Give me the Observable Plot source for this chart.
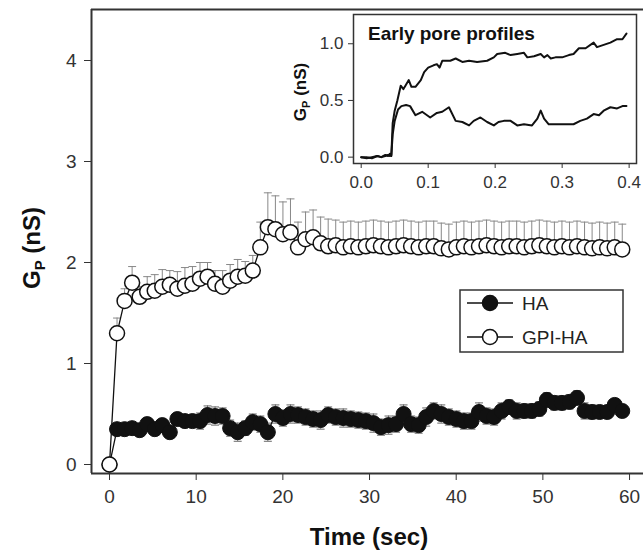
<!DOCTYPE html>
<html><head><meta charset="utf-8">
<script src="https://cdn.jsdelivr.net/npm/d3@7"></script>
<script src="https://cdn.jsdelivr.net/npm/@observablehq/plot@0.6"></script>
<style>
html,body{margin:0;padding:0;background:#fff;overflow:hidden;}
#wrap{position:relative;width:643px;height:550px;overflow:hidden;}
#wrap svg{position:absolute;}
</style></head><body><div id="wrap"></div>
<script>
// ---- data ----
const time = [0, 0.87, 1.74, 2.61, 3.48, 4.35, 5.22, 6.09, 6.96, 7.83,
  8.7, 9.57, 10.44, 11.31, 12.18, 13.05, 13.92, 14.79, 15.66, 16.53,
  17.4, 18.27, 19.14, 20.01, 20.88, 21.75, 22.62, 23.49, 24.36, 25.23,
  26.1, 26.97, 27.84, 28.71, 29.58, 30.45, 31.32, 32.19, 33.06, 33.93,
  34.8, 35.67, 36.54, 37.41, 38.28, 39.15, 40.02, 40.89, 41.76, 42.63,
  43.5, 44.37, 45.24, 46.11, 46.98, 47.85, 48.72, 49.59, 50.46, 51.33,
  52.2, 53.07, 53.94, 54.81, 55.68, 56.55, 57.42, 58.29, 59.16];
const gpiHA = [0, 1.30, 1.62, 1.80, 1.66, 1.71, 1.72, 1.76, 1.78, 1.74,
  1.77, 1.79, 1.84, 1.86, 1.79, 1.76, 1.82, 1.86, 1.87, 1.92,
  2.15, 2.35, 2.33, 2.28, 2.30, 2.15, 2.23, 2.25, 2.19, 2.16,
  2.17, 2.15, 2.16, 2.15, 2.16, 2.17, 2.16, 2.15, 2.16, 2.17,
  2.16, 2.15, 2.16, 2.16, 2.14, 2.13, 2.15, 2.16, 2.15, 2.16,
  2.17, 2.16, 2.15, 2.16, 2.16, 2.15, 2.16, 2.17, 2.16, 2.15,
  2.16, 2.15, 2.16, 2.15, 2.14, 2.15, 2.14, 2.15, 2.13];
const gpiErr = [0, 0.15, 0.12, 0.16, 0.10, 0.15, 0.16, 0.17, 0.14, 0.17,
  0.18, 0.17, 0.16, 0.14, 0.13, 0.16, 0.16, 0.17, 0.14, 0.15,
  0.25, 0.34, 0.33, 0.32, 0.33, 0.25, 0.27, 0.27, 0.26, 0.27,
  0.25, 0.25, 0.25, 0.25, 0.25, 0.25, 0.25, 0.25, 0.25, 0.25,
  0.25, 0.25, 0.25, 0.25, 0.25, 0.25, 0.25, 0.25, 0.25, 0.25,
  0.25, 0.25, 0.25, 0.25, 0.25, 0.25, 0.25, 0.25, 0.25, 0.25,
  0.25, 0.25, 0.25, 0.25, 0.25, 0.25, 0.25, 0.25, 0.25];
const ha = [0, 0.35, 0.35, 0.36, 0.34, 0.40, 0.35, 0.39, 0.32, 0.45,
  0.43, 0.43, 0.43, 0.49, 0.48, 0.48, 0.36, 0.32, 0.36, 0.42,
  0.40, 0.32, 0.50, 0.46, 0.50, 0.49, 0.47, 0.45, 0.44, 0.49,
  0.47, 0.46, 0.45, 0.44, 0.43, 0.41, 0.37, 0.39, 0.40, 0.50,
  0.40, 0.39, 0.47, 0.53, 0.50, 0.47, 0.45, 0.43, 0.43, 0.52,
  0.48, 0.47, 0.53, 0.57, 0.53, 0.53, 0.53, 0.55, 0.64, 0.61,
  0.61, 0.62, 0.66, 0.53, 0.52, 0.52, 0.52, 0.59, 0.53];
const haErr = [0, 0.04, 0.04, 0.04, 0.04, 0.05, 0.04, 0.05, 0.04, 0.06,
  0.06, 0.06, 0.08, 0.09, 0.09, 0.08, 0.08, 0.09, 0.07, 0.08,
  0.08, 0.09, 0.09, 0.08, 0.09, 0.08, 0.08, 0.08, 0.09, 0.08,
  0.08, 0.09, 0.08, 0.08, 0.08, 0.09, 0.08, 0.09, 0.08, 0.09,
  0.08, 0.08, 0.09, 0.08, 0.09, 0.08, 0.08, 0.08, 0.08, 0.09,
  0.08, 0.08, 0.08, 0.07, 0.08, 0.07, 0.07, 0.07, 0.07, 0.07,
  0.07, 0.07, 0.07, 0.08, 0.07, 0.06, 0.06, 0.06, 0.06];

const insetUpperT = [0.000, 0.008, 0.016, 0.024, 0.030, 0.036, 0.040, 0.043, 0.045, 0.047,
  0.050, 0.054, 0.059, 0.063, 0.066, 0.071, 0.075, 0.081, 0.089, 0.094,
  0.100, 0.108, 0.113, 0.117, 0.121, 0.133, 0.141, 0.151, 0.161, 0.173,
  0.188, 0.198, 0.203, 0.215, 0.223, 0.233, 0.243, 0.248, 0.258, 0.268,
  0.273, 0.278, 0.283, 0.290, 0.300, 0.310, 0.317, 0.325, 0.335, 0.347,
  0.352, 0.362, 0.372, 0.382, 0.390, 0.396];
const insetUpperG = [0.00, -0.01, 0.00, 0.01, 0.00, 0.02, 0.01, 0.03, 0.01, 0.30,
  0.41, 0.50, 0.63, 0.60, 0.63, 0.68, 0.62, 0.62, 0.68, 0.75,
  0.79, 0.81, 0.82, 0.79, 0.85, 0.85, 0.87, 0.84, 0.85, 0.84,
  0.85, 0.88, 0.91, 0.92, 0.90, 0.91, 0.92, 0.88, 0.89, 0.91,
  0.88, 0.90, 0.87, 0.88, 0.88, 0.90, 0.91, 0.96, 0.96, 1.01,
  0.97, 0.99, 1.01, 1.04, 1.04, 1.09];
const insetLowerT = [0.000, 0.008, 0.016, 0.024, 0.030, 0.036, 0.040, 0.043, 0.045, 0.047,
  0.050, 0.055, 0.060, 0.067, 0.073, 0.081, 0.091, 0.103, 0.113, 0.121,
  0.131, 0.141, 0.151, 0.161, 0.168, 0.178, 0.188, 0.198, 0.205, 0.213,
  0.223, 0.233, 0.243, 0.255, 0.263, 0.268, 0.273, 0.280, 0.293, 0.305,
  0.317, 0.327, 0.337, 0.347, 0.355, 0.362, 0.372, 0.382, 0.390, 0.396];
const insetLowerG = [0.00, 0.00, -0.01, 0.01, 0.00, 0.01, 0.02, 0.01, 0.02, 0.20,
  0.32, 0.42, 0.45, 0.46, 0.45, 0.37, 0.40, 0.35, 0.39, 0.40,
  0.44, 0.32, 0.31, 0.28, 0.32, 0.35, 0.31, 0.28, 0.31, 0.32,
  0.32, 0.28, 0.29, 0.28, 0.34, 0.41, 0.34, 0.29, 0.29, 0.29,
  0.29, 0.32, 0.34, 0.38, 0.37, 0.41, 0.44, 0.43, 0.45, 0.45];

const xTicks = [0, 10, 20, 30, 40, 50, 60];
const yTicks = [0, 1, 2, 3, 4];
const insetXTicks = [0, 0.1, 0.2, 0.3, 0.4];
const insetYTicks = [0, 0.5, 1.0];
const seriesNames = ["HA", "GPI-HA"];
const xTitle = "Time (sec)";
const insetTitle = "Early pore profiles";

// ---- build ----
const FONT = "'Liberation Sans', Arial, Helvetica, sans-serif";
const INK = "#111";
const rows = time.map((t, i) => ({t, gpi: gpiHA[i], gpiE: gpiErr[i], ha: ha[i], haE: haErr[i]}));
const upper = insetUpperT.map((t, i) => ({t, g: insetUpperG[i]}));
const lower = insetLowerT.map((t, i) => ({t, g: insetLowerG[i]}));
const capSymbol = {draw(ctx, size) { const w = Math.sqrt(size / Math.PI); ctx.moveTo(-w, 0); ctx.lineTo(w, 0); }};

const xDomain = [-2.077, 61.61];
const yDomain = [-0.089, 4.505];
const ruleStyle = {stroke: "#333", strokeWidth: 2};

const main = Plot.plot({
  width: 643, height: 550,
  marginLeft: 91, marginRight: 0, marginTop: 9, marginBottom: 77,
  style: {fontFamily: FONT, fontSize: "19px", color: "#333", background: "transparent", overflow: "visible"},
  x: {domain: xDomain, ticks: xTicks, tickFormat: d3.format("d"), tickSize: 7, tickPadding: 9, label: null},
  y: {domain: yDomain, ticks: yTicks, tickFormat: d3.format("d"), tickSize: 7, tickPadding: 8, label: null},
  marks: [
    Plot.ruleY([yDomain[1]], ruleStyle),
    Plot.ruleY([yDomain[0]], ruleStyle),
    Plot.ruleX([xDomain[0]], ruleStyle),
    Plot.ruleX(rows, {x: "t", y1: "gpi", y2: d => d.gpi + d.gpiE, stroke: "#888", strokeWidth: 1}),
    Plot.dot(rows, {x: "t", y: d => d.gpi + d.gpiE, symbol: capSymbol, r: 4, stroke: "#888", strokeWidth: 1}),
    Plot.ruleX(rows, {x: "t", y1: d => d.ha - d.haE, y2: d => d.ha + d.haE, stroke: "#666", strokeWidth: 1}),
    Plot.dot(rows, {x: "t", y: d => d.ha + d.haE, symbol: capSymbol, r: 4, stroke: "#666", strokeWidth: 1}),
    Plot.dot(rows, {x: "t", y: d => d.ha - d.haE, symbol: capSymbol, r: 4, stroke: "#666", strokeWidth: 1}),
    Plot.line(rows, {x: "t", y: "gpi", stroke: INK, strokeWidth: 1.3}),
    Plot.line(rows, {x: "t", y: "ha", stroke: INK, strokeWidth: 1.3}),
    Plot.dot(rows, {x: "t", y: "ha", r: 7.5, fill: INK, stroke: INK, strokeWidth: 1}),
    Plot.dot(rows, {x: "t", y: "gpi", r: 7.5, fill: "white", stroke: INK, strokeWidth: 1.5})
  ]
});
main.style.left = "0px"; main.style.top = "0px";
document.getElementById("wrap").appendChild(main);

const svg = d3.select(main);
// y-axis title with subscript
const yl = svg.append("text")
  .attr("transform", "translate(40,248) rotate(-90)")
  .attr("text-anchor", "middle")
  .attr("font-family", FONT).attr("font-weight", "bold").attr("font-size", 24).attr("fill", INK);
yl.append("tspan").text("G");
yl.append("tspan").attr("font-size", 15).attr("dy", 5).text("P");
yl.append("tspan").attr("dy", -5).text(" (nS)");
// x-axis title
svg.append("text").attr("x", 369).attr("y", 545).attr("text-anchor", "middle")
  .attr("font-family", FONT).attr("font-weight", "bold").attr("font-size", 24).attr("fill", INK)
  .text(xTitle);

// legend
const lg = svg.append("g").attr("font-family", FONT).attr("font-size", 19).attr("fill", "#222");
lg.append("rect").attr("x", 460).attr("y", 290).attr("width", 163).attr("height", 62)
  .attr("fill", "white").attr("stroke", "#333").attr("stroke-width", 1.5);
seriesNames.forEach((name, i) => {
  const y = 303 + i * 34;
  lg.append("line").attr("x1", 467).attr("x2", 513).attr("y1", y).attr("y2", y).attr("stroke", INK).attr("stroke-width", 1.3);
  lg.append("circle").attr("cx", 490).attr("cy", y).attr("r", 7.5)
    .attr("fill", i === 0 ? INK : "white").attr("stroke", INK).attr("stroke-width", 1.5);
  lg.append("text").attr("x", 522).attr("y", y + 7).attr("text-anchor", "start").text(name);
});

// inset
const inset = Plot.plot({
  width: 363, height: 200,
  marginLeft: 73, marginRight: 7, marginTop: 14, marginBottom: 37,
  style: {fontFamily: FONT, fontSize: "17px", color: "#333", background: "transparent", overflow: "visible"},
  x: {domain: [-0.0115, 0.411], ticks: insetXTicks, tickFormat: d3.format(".1f"), tickSize: 5, tickPadding: 7, label: null},
  y: {domain: [-0.056, 1.258], ticks: insetYTicks, tickFormat: d3.format(".1f"), tickSize: 5, tickPadding: 5, label: null},
  marks: [
    Plot.frame({fill: "white", stroke: "#333", strokeWidth: 1.5}),
    Plot.line(upper, {x: "t", y: "g", stroke: INK, strokeWidth: 2}),
    Plot.line(lower, {x: "t", y: "g", stroke: INK, strokeWidth: 2})
  ]
});
inset.style.left = "280px"; inset.style.top = "0px";
document.getElementById("wrap").appendChild(inset);
const isvg = d3.select(inset);
isvg.append("text").attr("x", 88).attr("y", 40).attr("text-anchor", "start")
  .attr("font-family", FONT).attr("font-weight", "bold").attr("font-size", 19).attr("fill", INK)
  .text(insetTitle);
const il = isvg.append("text")
  .attr("transform", "translate(26,92) rotate(-90)")
  .attr("text-anchor", "middle")
  .attr("font-family", FONT).attr("font-weight", "bold").attr("font-size", 17).attr("fill", INK);
il.append("tspan").text("G");
il.append("tspan").attr("font-size", 11).attr("dy", 4).text("P");
il.append("tspan").attr("dy", -4).text(" (nS)");
</script></body></html>
